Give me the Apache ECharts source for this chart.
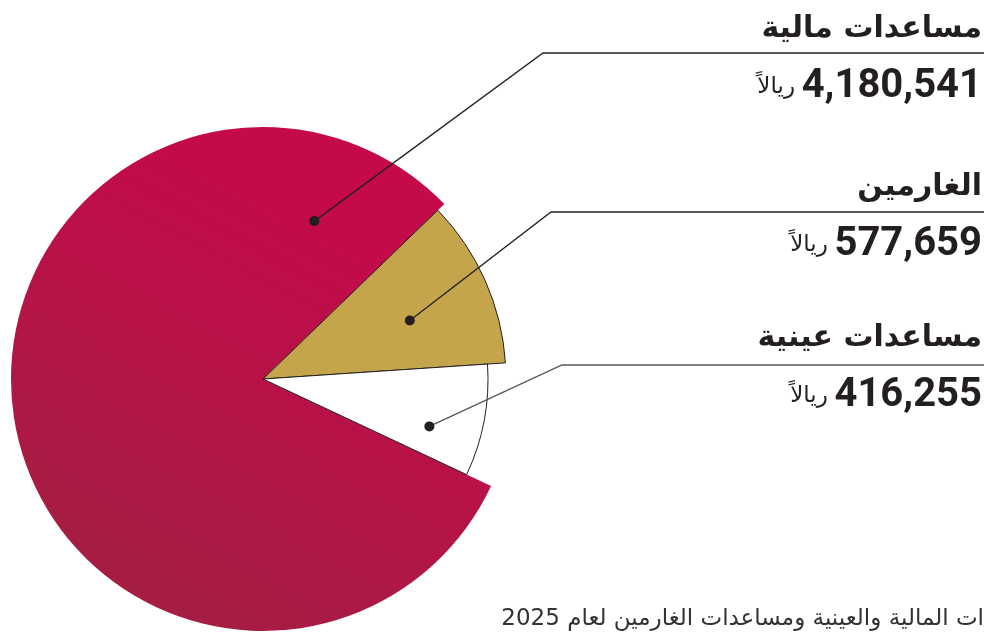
<!DOCTYPE html>
<html>
<head>
<meta charset="utf-8">
<script src="https://cdn.jsdelivr.net/npm/echarts@6/dist/echarts.min.js"></script>
<style>
  html, body { margin: 0; padding: 0; background: #fff; }
  #chart { width: 987px; height: 634px; }
</style>
</head>
<body>
<div id="chart"></div>
<script>
// البيانات
var categories = ['مساعدات مالية', 'الغارمين', 'مساعدات عينية'];
var values = [4180541, 577659, 416255];
var unitLabel = 'ريالاً';
var captionText = 'ات المالية والعينية ومساعدات الغارمين لعام 2025';

// الشكل
var center = [263, 379];
var radii = [252, 243, 225];
var sliceColors = [
  new echarts.graphic.LinearGradient(0.7, 0.2, 0.25, 1, [
    { offset: 0, color: '#c40a4a' },
    { offset: 1, color: '#a21f42' }
  ]),
  '#c4a54c',
  '#ffffff'
];
var borderWidths = [0, 1, 1];
var labelTops = [7, 165, 316];      // أعلى كل تسمية
var lineYs = [53, 212, 365];        // الخط الأفقي تحت العنوان
var elbowXs = [543, 551, 562];
var lineColors = ['#231f20', '#231f20', '#555'];
var pointers = [[72, 166], [21.7, 158], [-15.9, 173]]; // زاوية، نصف قطر النقطة
var rightEdge = 982;

var total = values.reduce(function (a, b) { return a + b; }, 0);
// الشريحة الذهبية تبدأ عند 44 درجة
var startAngle = 44 + 360 * values[0] / total;

function dotPos(i) {
  var a = pointers[i][0] * Math.PI / 180;
  return [center[0] + pointers[i][1] * Math.cos(a), center[1] - pointers[i][1] * Math.sin(a)];
}

var myChart = echarts.init(document.getElementById('chart'));

var series = categories.map(function (name, s) {
  return {
    type: 'pie',
    center: center,
    radius: [0, radii[s]],
    startAngle: startAngle,
    clockwise: true,
    avoidLabelOverlap: false,
    silent: true,
    emphasis: { disabled: true },
    z: 2 + s,
    data: values.map(function (v, i) {
      var visible = i === s;
      return {
        name: categories[i],
        value: v,
        itemStyle: visible ? {
          color: sliceColors[i],
          borderColor: '#231f20',
          borderWidth: borderWidths[i]
        } : { color: 'transparent', borderWidth: 0 },
        label: { show: visible }
      };
    }),
    label: {
      position: 'outside',
      formatter: function (p) {
        return '{t|' + p.name + '}\n{u|' + unitLabel + '}  {v|' + p.value.toLocaleString('en-US') + '}';
      },
      rich: {
        t: { fontFamily: 'DejaVu Sans', fontWeight: 'bold', fontSize: 30, color: '#231f20', lineHeight: 44, align: 'right' },
        v: { fontFamily: 'Roboto', fontWeight: 'bold', fontSize: 40, color: '#231f20', lineHeight: 72, align: 'right' },
        u: { fontFamily: 'DejaVu Sans', fontSize: 23, color: '#231f20', lineHeight: 72, align: 'right' }
      }
    },
    labelLine: { show: false },
    labelLayout: function (p) {
      var i = p.dataIndex;
      return { x: rightEdge, y: labelTops[i], align: 'right', verticalAlign: 'top' };
    }
  };
});

// خطوط الإشارة والنقاط
var pointerGraphics = [];
categories.forEach(function (n, i) {
  var p = dotPos(i);
  pointerGraphics.push({
    type: 'polyline',
    shape: { points: [p, [elbowXs[i], lineYs[i]], [rightEdge + 2, lineYs[i]]] },
    style: { stroke: lineColors[i], lineWidth: 1.3, fill: null },
    z: 100
  });
  pointerGraphics.push({
    type: 'circle',
    shape: { cx: p[0], cy: p[1], r: 5 },
    style: { fill: '#231f20' },
    z: 101
  });
});

var option = {
  backgroundColor: '#fff',
  animation: false,
  series: series,
  graphic: pointerGraphics.concat([{
    type: 'text',
    right: 3,
    top: 608,
    z: 100,
    style: {
      text: captionText,
      fontFamily: 'DejaVu Sans',
      fontSize: 23,
      fill: '#333'
    }
  }])
};

myChart.setOption(option);
</script>
</body>
</html>
